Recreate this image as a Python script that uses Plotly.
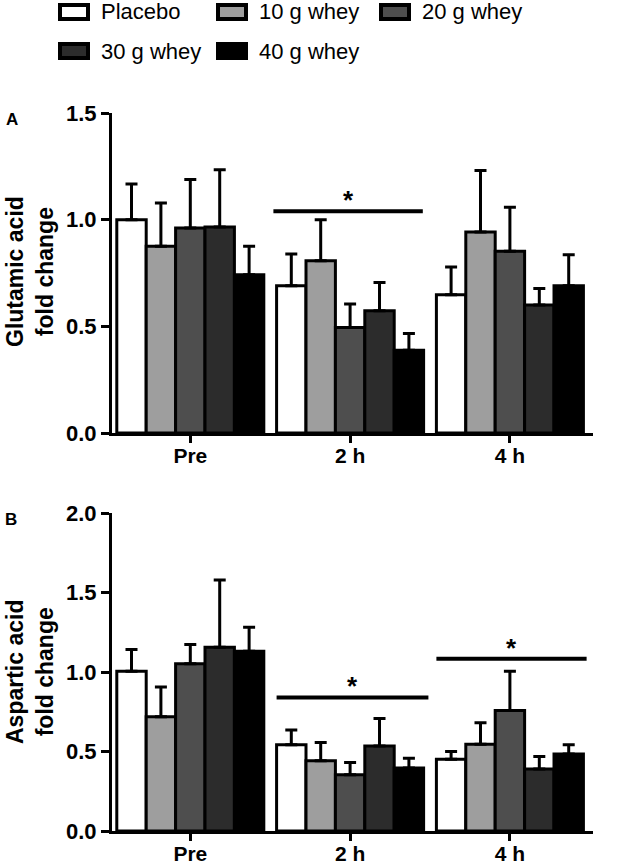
import plotly.graph_objects as go

FW, FH = 625, 864

categories = ["Pre", "2 h", "4 h"]
series_names = ["Placebo", "10 g whey", "20 g whey", "30 g whey", "40 g whey"]
series_colors = ["#ffffff", "#9e9e9e", "#4e4e4e", "#2c2c2c", "#000000"]

# Panel A: Glutamic acid fold change (mean, upper SEM)
glu_placebo = [1.00, 0.69, 0.648]
glu_placebo_err = [0.167, 0.149, 0.13]
glu_10g = [0.875, 0.808, 0.942]
glu_10g_err = [0.203, 0.192, 0.289]
glu_20g = [0.961, 0.495, 0.852]
glu_20g_err = [0.227, 0.11, 0.206]
glu_30g = [0.966, 0.573, 0.60]
glu_30g_err = [0.268, 0.133, 0.077]
glu_40g = [0.742, 0.388, 0.69]
glu_40g_err = [0.133, 0.078, 0.146]

# Panel B: Aspartic acid fold change
asp_placebo = [1.004, 0.542, 0.452]
asp_placebo_err = [0.138, 0.093, 0.048]
asp_10g = [0.719, 0.442, 0.546]
asp_10g_err = [0.187, 0.114, 0.135]
asp_20g = [1.052, 0.354, 0.758]
asp_20g_err = [0.121, 0.077, 0.246]
asp_30g = [1.156, 0.535, 0.39]
asp_30g_err = [0.423, 0.173, 0.079]
asp_40g = [1.131, 0.396, 0.485]
asp_40g_err = [0.15, 0.062, 0.057]

glu_means = [glu_placebo, glu_10g, glu_20g, glu_30g, glu_40g]
glu_errs = [glu_placebo_err, glu_10g_err, glu_20g_err, glu_30g_err, glu_40g_err]
asp_means = [asp_placebo, asp_10g, asp_20g, asp_30g, asp_40g]
asp_errs = [asp_placebo_err, asp_10g_err, asp_20g_err, asp_30g_err, asp_40g_err]

# significance brackets: (x0, x1, y) in category units
glu_sig = [(0.52, 1.455, 1.04)]
asp_sig = [(0.54, 1.49, 0.84), (1.54, 2.48, 1.083)]

A_ticks = [0.0, 0.5, 1.0, 1.5]
B_ticks = [0.0, 0.5, 1.0, 1.5, 2.0]


def px(x):
    return x / FW


def py(y):
    return 1 - y / FH


fig = go.Figure()

for means, errs, xa, ya in [(glu_means, glu_errs, "x", "y"), (asp_means, asp_errs, "x2", "y2")]:
    for name, col, m, e in zip(series_names, series_colors, means, errs):
        fig.add_trace(go.Bar(
            x=categories, y=m, name=name, xaxis=xa, yaxis=ya,
            marker=dict(color=col, line=dict(color="black", width=3)),
            error_y=dict(type="data", symmetric=False, array=e, arrayminus=[0] * len(e),
                         color="black", thickness=3, width=6),
            showlegend=False,
        ))

FAM = "Liberation Sans, Arial, sans-serif"
tickfont = dict(family=FAM, size=22, color="black", weight="bold")
catfont = dict(family=FAM, size=21, color="black", weight="bold")

xdom = [px(112), px(593)]
common_x = dict(domain=xdom, range=[-0.49, 2.52], showline=True, linecolor="black", linewidth=3,
                ticks="outside", ticklen=7, tickwidth=3, tickcolor="black", tickfont=catfont,
                ticklabelstandoff=-5,
                showgrid=False, zeroline=False, fixedrange=True)
common_y = dict(showline=True, linecolor="black", linewidth=3, ticks="outside", ticklen=8,
                tickwidth=3, tickcolor="black", tickfont=tickfont, showgrid=False,
                zeroline=False, tickformat=".1f", fixedrange=True)

fig.update_layout(
    width=FW, height=FH,
    margin=dict(l=0, r=0, t=0, b=0, autoexpand=False),
    paper_bgcolor="white", plot_bgcolor="white",
    barmode="group", bargap=0.08, bargroupgap=0,
    xaxis=dict(**common_x, anchor="y"),
    yaxis=dict(**common_y, domain=[py(433), py(113)], range=[0, 1.5], tickvals=A_ticks, anchor="x"),
    xaxis2=dict(**common_x, anchor="y2"),
    yaxis2=dict(**common_y, domain=[py(831), py(513)], range=[0, 2.0], tickvals=B_ticks, anchor="x2"),
)

shapes = []
annotations = []
for sigs, xr, yr in [(glu_sig, "x", "y"), (asp_sig, "x2", "y2")]:
    for x0, x1, y in sigs:
        shapes.append(dict(type="line", xref=xr, yref=yr, x0=x0, x1=x1, y0=y, y1=y,
                           line=dict(color="black", width=4)))
        annotations.append(dict(xref=xr, yref=yr, x=(x0 + x1) / 2, y=y, text="<b>*</b>", showarrow=False,
                                yanchor="bottom", xanchor="center", yshift=-6,
                                font=dict(family=FAM, size=26, color="black")))

# panel letters and axis titles
labfont = dict(family=FAM, size=17, color="black")
annotations.append(dict(xref="paper", yref="paper", x=px(12), y=py(119), text="<b>A</b>", showarrow=False,
                        xanchor="center", yanchor="middle", font=labfont))
annotations.append(dict(xref="paper", yref="paper", x=px(11), y=py(519), text="<b>B</b>", showarrow=False,
                        xanchor="center", yanchor="middle", font=labfont))
titfont = dict(family=FAM, size=23, color="black")
annotations.append(dict(xref="paper", yref="paper", x=px(30), y=py(272),
                        text="<b>Glutamic acid<br>fold change</b>", textangle=-90, showarrow=False,
                        xanchor="center", yanchor="middle", font=titfont))
annotations.append(dict(xref="paper", yref="paper", x=px(30), y=py(672),
                        text="<b>Aspartic acid<br>fold change</b>", textangle=-90, showarrow=False,
                        xanchor="center", yanchor="middle", font=titfont))

# legend drawn as boxes + labels
leg_pos = [(58, 12), (216, 12), (379, 12), (58, 51), (216, 51)]
legfont = dict(family=FAM, size=22, color="black")
for (lx, ly), name, col in zip(leg_pos, series_names, series_colors):
    shapes.append(dict(type="rect", xref="paper", yref="paper",
                       x0=px(lx + 2), x1=px(lx + 30), y0=py(ly - 7), y1=py(ly + 7),
                       fillcolor=col, line=dict(color="black", width=4)))
    annotations.append(dict(xref="paper", yref="paper", x=px(lx + 41), y=py(ly), text=name,
                            showarrow=False, xanchor="left", yanchor="middle", font=legfont))

fig.update_layout(shapes=shapes, annotations=annotations, hovermode=False)

# remove the default page margin so the figure fills the window exactly
fig.write_html("out.html", config={"displayModeBar": False, "staticPlot": True},
               post_script="document.body.style.margin='0px';")
